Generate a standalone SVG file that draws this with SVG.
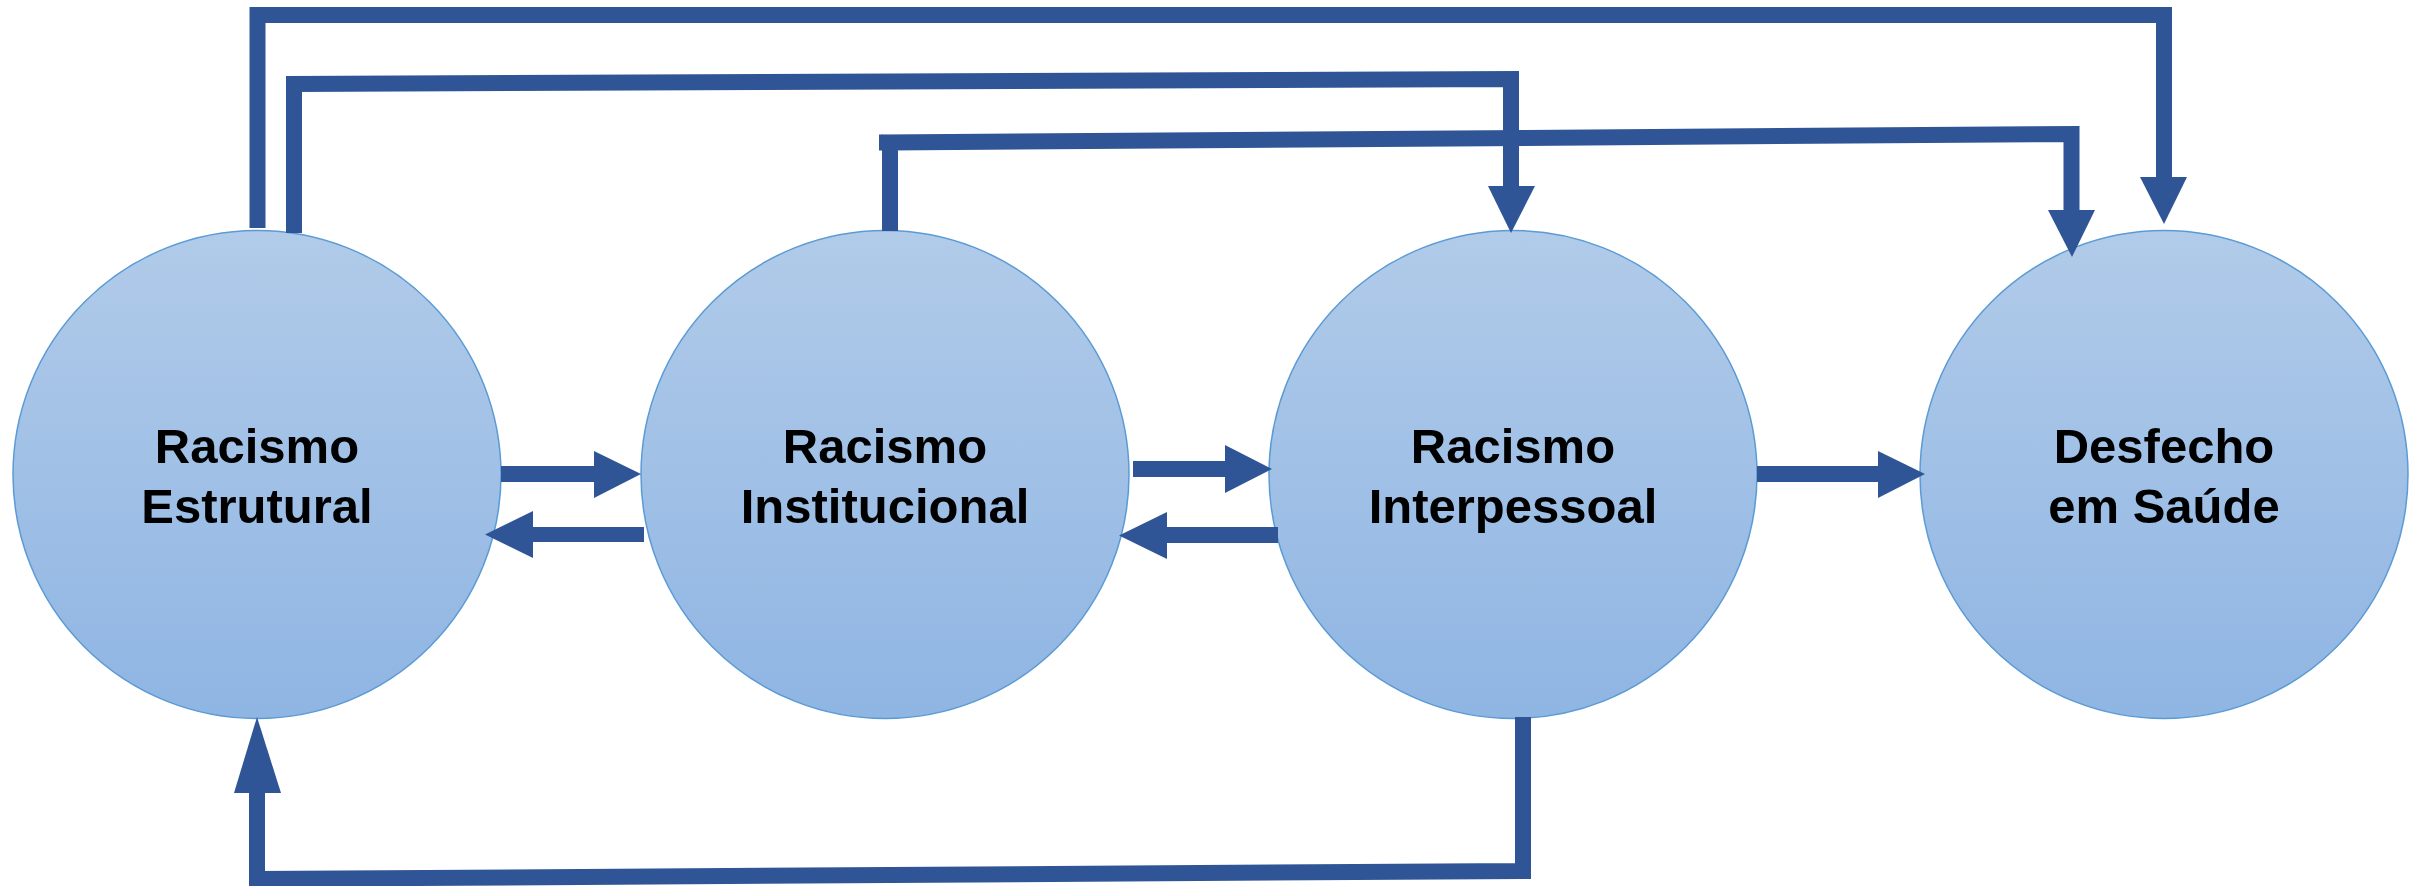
<svg xmlns="http://www.w3.org/2000/svg" width="2422" height="886" viewBox="0 0 2422 886">
<defs>
<linearGradient id="g" x1="0" y1="0" x2="0" y2="1">
<stop offset="0" stop-color="#B1CBE9"/>
<stop offset="1" stop-color="#8FB5E3"/>
</linearGradient>
<style>
.node{fill:url(#g);stroke:#5B9BD5;stroke-width:1.5}
.lbl{font-family:"Liberation Sans",Arial,sans-serif;font-weight:bold;font-size:49px;fill:#000;text-anchor:middle}
.ln{fill:none;stroke:#2F5597;stroke-width:16;stroke-linejoin:miter;stroke-linecap:butt}
.hd{fill:#2F5597}
</style>
</defs>
<rect width="2422" height="886" fill="#fff"/>
<g id="n1">
<circle class="node" cx="257" cy="474.5" r="244"/>
<text class="lbl" x="257" y="463">Racismo</text>
<text class="lbl" x="257" y="523">Estrutural</text>
</g>
<g id="n2">
<circle class="node" cx="885" cy="474.5" r="244"/>
<text class="lbl" x="885" y="463">Racismo</text>
<text class="lbl" x="885" y="523">Institucional</text>
</g>
<g id="n3">
<circle class="node" cx="1513" cy="474.5" r="244"/>
<text class="lbl" x="1513" y="463">Racismo</text>
<text class="lbl" x="1513" y="523">Interpessoal</text>
</g>
<g id="n4">
<circle class="node" cx="2164" cy="474.5" r="244"/>
<text class="lbl" x="2164" y="463">Desfecho</text>
<text class="lbl" x="2164" y="523">em Saúde</text>
</g>
<g id="connectors">
<!-- Estrutural -> Desfecho (outer top) -->
<path class="ln" d="M257.5 228 V15 H2164 V177"/>
<polygon class="hd" points="2140,177 2187,177 2164,224"/>
<!-- Estrutural -> Interpessoal -->
<path class="ln" d="M294 233 V84 L1511 79 V186"/>
<polygon class="hd" points="1488,186 1535,186 1511,233"/>
<!-- Institucional -> Desfecho -->
<path class="ln" d="M890 231 V142.5 L2071.5 134 V210"/>
<rect class="hd" x="879" y="134.5" width="4" height="16"/>
<polygon class="hd" points="2048,210 2095,210 2072,257"/>
<!-- Interpessoal -> Estrutural (bottom) -->
<path class="ln" d="M1523 717 V871 L257 879 V793"/>
<polygon class="hd" points="234,793 281,793 257,717"/>
<!-- horizontal arrows -->
<polygon class="hd" points="501,466 594,466 594,451 641,474 594,498 594,482 501,482"/>
<polygon class="hd" points="644,527 533,527 533,511 485,534.5 533,558 533,542 644,542"/>
<polygon class="hd" points="1133,461 1225,461 1225,445 1272,469 1225,493 1225,477 1133,477"/>
<polygon class="hd" points="1278,527 1167,527 1167,512 1119,535.5 1167,559 1167,543 1278,543"/>
<polygon class="hd" points="1757,466 1878,466 1878,451 1925,474 1878,498 1878,482 1757,482"/>
</g>
</svg>
